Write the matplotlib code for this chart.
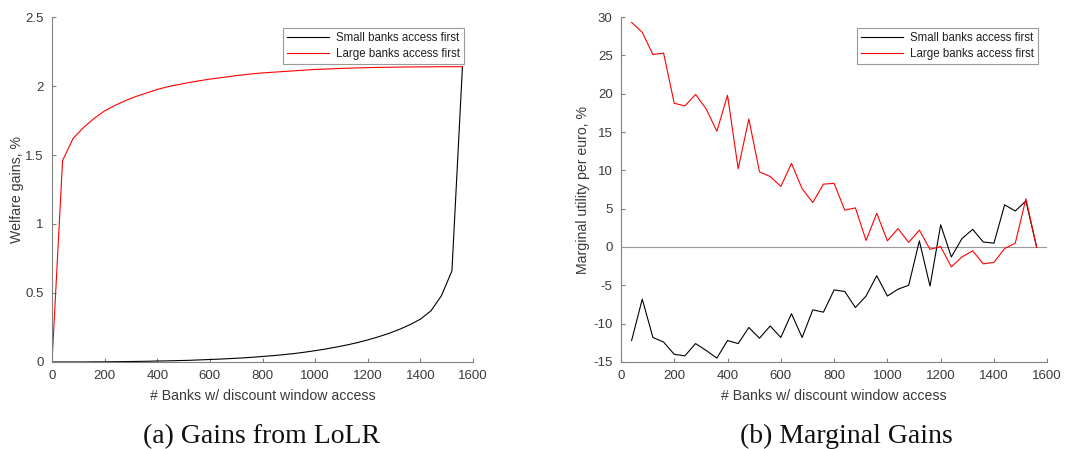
import matplotlib
matplotlib.use("Agg")
import matplotlib.pyplot as plt
import numpy as np

# x grid: number of banks with discount window access
banks_level = [0, 40, 80, 120, 160, 200, 240, 280, 320, 360, 400, 440, 480, 520,
               560, 600, 640, 680, 720, 760, 800, 840, 880, 920, 960, 1000, 1040,
               1080, 1120, 1160, 1200, 1240, 1280, 1320, 1360, 1400, 1440, 1480,
               1520, 1560]
banks_marginal = banks_level[1:]

# (a) welfare gains, %
gains_small = [0, 0.0, 0.0, 0.0, 0.001, 0.001, 0.002, 0.003, 0.004, 0.005, 0.007,
               0.008, 0.010, 0.012, 0.015, 0.018, 0.021, 0.025, 0.029, 0.034, 0.040,
               0.046, 0.053, 0.061, 0.071, 0.082, 0.094, 0.108, 0.123, 0.140, 0.160,
               0.182, 0.207, 0.236, 0.270, 0.310, 0.370, 0.480, 0.660, 2.140]
gains_large = [0, 1.46, 1.62, 1.70, 1.765, 1.82, 1.86, 1.895, 1.925, 1.95, 1.975,
               1.995, 2.01, 2.025, 2.038, 2.05, 2.06, 2.07, 2.08, 2.088, 2.095,
               2.10, 2.105, 2.11, 2.115, 2.12, 2.123, 2.126, 2.129, 2.131, 2.133,
               2.135, 2.136, 2.137, 2.138, 2.139, 2.139, 2.14, 2.14, 2.14]

# (b) marginal utility per euro, %
marg_small = [-12.2, -6.8, -11.8, -12.4, -14.0, -14.2, -12.6, -13.5, -14.5, -12.2,
              -12.6, -10.5, -11.9, -10.3, -11.8, -8.7, -11.8, -8.2, -8.5, -5.6,
              -5.8, -7.9, -6.4, -3.75, -6.4, -5.5, -5.0, 0.8, -5.1, 2.9,
              -1.3, 1.1, 2.3, 0.65, 0.5, 5.5, 4.7, 6.0, 0.0]
marg_large = [29.3, 28.0, 25.1, 25.3, 18.75, 18.4, 19.9, 18.0, 15.1, 19.8,
              10.2, 16.7, 9.8, 9.2, 7.9, 10.9, 7.6, 5.8, 8.2, 8.3,
              4.8, 5.1, 0.85, 4.4, 0.8, 2.4, 0.6, 2.2, -0.3, 0.05,
              -2.6, -1.3, -0.5, -2.2, -2.0, -0.2, 0.5, 6.3, 0.0]

series_labels = ["Small banks access first", "Large banks access first"]
xlabel = "# Banks w/ discount window access"

plt.rcParams["font.family"] = ["Liberation Sans", "DejaVu Sans"]
plt.rcParams["axes.unicode_minus"] = False

TICK_FS, LABEL_FS, LEG_FS = 9.5, 10.2, 8.3
AX_COLOR = "#3a3a3a"


def style_axes(ax):
    for side in ("top", "right"):
        ax.spines[side].set_visible(False)
    for side in ("left", "bottom"):
        ax.spines[side].set_color("#808080")
        ax.spines[side].set_linewidth(0.8)
    ax.tick_params(direction="in", length=3, width=0.8, colors="#808080",
                   labelcolor=AX_COLOR, labelsize=TICK_FS, pad=6)
    ax.set_xlim(0, 1600)
    ax.set_xticks(np.arange(0, 1601, 200))
    ax.set_xlabel(xlabel, fontsize=LABEL_FS, color=AX_COLOR, labelpad=5)


def add_legend(ax):
    leg = ax.legend(loc="upper right", fontsize=LEG_FS, frameon=True, fancybox=False,
                    handlelength=3.6, borderpad=0.35, labelspacing=0.3,
                    handletextpad=0.6, borderaxespad=0, bbox_to_anchor=(0.978, 0.968))
    leg.get_frame().set_edgecolor("#808080")
    leg.get_frame().set_linewidth(0.8)
    for t in leg.get_texts():
        t.set_color("#202020")


fig = plt.figure(figsize=(10.73, 4.49), dpi=100)

ax1 = fig.add_axes([0.0485, 0.1938, 0.3923, 0.7683])
ax1.plot(banks_level, gains_small, color="black", lw=0.8, label=series_labels[0])
ax1.plot(banks_level, gains_large, color="red", lw=0.8, label=series_labels[1])
style_axes(ax1)
ax1.set_ylim(0, 2.5)
ax1.set_yticks([0, 0.5, 1, 1.5, 2, 2.5])
ax1.set_yticklabels(["0", "0.5", "1", "1.5", "2", "2.5"])
ax1.set_ylabel("Welfare gains, %", fontsize=LABEL_FS, color=AX_COLOR, labelpad=1)
add_legend(ax1)

ax2 = fig.add_axes([0.5787, 0.1938, 0.3973, 0.7683])
ax2.axhline(0, color="#999999", lw=0.8)
ax2.plot(banks_marginal, marg_small, color="black", lw=0.8, label=series_labels[0])
ax2.plot(banks_marginal, marg_large, color="red", lw=0.8, label=series_labels[1])
style_axes(ax2)
ax2.set_ylim(-15, 30)
ax2.set_yticks(np.arange(-15, 31, 5))
ax2.set_ylabel("Marginal utility per euro, %", fontsize=LABEL_FS, color=AX_COLOR,
               labelpad=2)
add_legend(ax2)

SERIF = ["Liberation Serif", "DejaVu Serif"]
fig.text(0.244, 0.027, "(a) Gains from LoLR", ha="center", va="center",
         fontsize=20, family=SERIF, color="#111111")
fig.text(0.789, 0.027, "(b) Marginal Gains", ha="center", va="center",
         fontsize=20, family=SERIF, color="#111111")

fig.savefig("out.png", dpi=100)
